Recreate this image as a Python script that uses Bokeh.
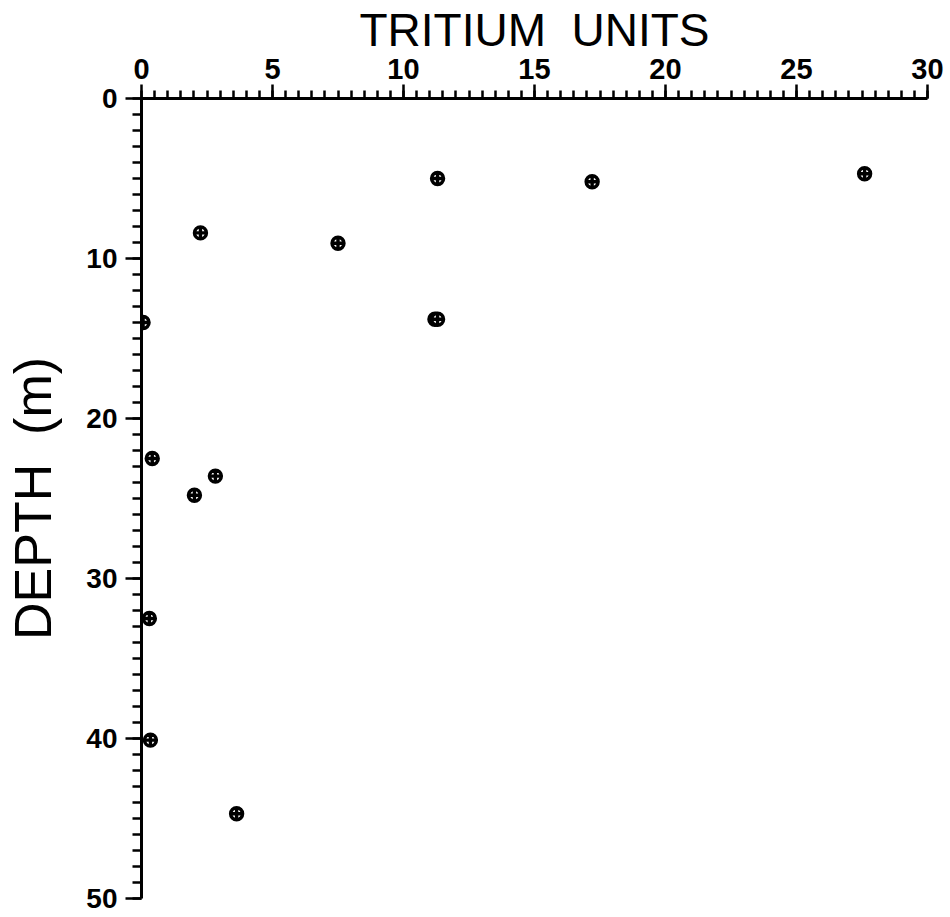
from bokeh.plotting import figure
from bokeh.models import Range1d, SingleIntervalTicker, ColumnDataSource
from bokeh.embed import file_html
from bokeh.resources import INLINE

# Data (tritium units vs depth in metres)
tritium = [27.6, 11.3, 17.2, 2.25, 7.5, 11.2, 11.3, 0.06, 0.41, 2.82, 2.02, 0.3, 0.34, 3.63]
depth = [4.7, 5.0, 5.2, 8.4, 9.05, 13.8, 13.8, 14.0, 22.5, 23.6, 24.8, 32.5, 40.1, 44.7]

x_ticks_interval = 5
y_ticks_interval = 10

source = ColumnDataSource(data=dict(x=tritium, y=depth))

p = figure(width=950, height=917, output_backend="svg", toolbar_location=None,
           x_range=Range1d(0, 30), y_range=Range1d(50, 0),
           x_axis_location="above",
           min_border_left=141, min_border_right=23,
           min_border_top=97, min_border_bottom=19)

p.outline_line_color = None
p.xgrid.visible = False
p.ygrid.visible = False
p.background_fill_color = "white"
p.border_fill_color = "white"

p.scatter("x", "y", source=source, marker="circle_cross", size=12,
          line_width=3.4, line_color="black", fill_color="white")

xa = p.xaxis[0]
xa.ticker = SingleIntervalTicker(interval=x_ticks_interval, num_minor_ticks=10)
xa.axis_label = "TRITIUM \u00a0UNITS"
xa.axis_label_text_font = "Liberation Sans"
xa.axis_label_text_font_size = "46px"
xa.axis_label_text_font_style = "normal"
xa.axis_label_standoff = 0
xa.major_label_text_font = "Liberation Sans"
xa.major_label_text_font_size = "29px"
xa.major_label_text_font_style = "bold"
xa.major_label_standoff = 6
xa.major_tick_out = 14
xa.major_tick_in = 0
xa.minor_tick_out = 8
xa.minor_tick_in = 0
xa.axis_line_width = 3
xa.major_tick_line_width = 2.5
xa.minor_tick_line_width = 2.5
xa.axis_line_color = "black"
xa.major_tick_line_color = "black"
xa.minor_tick_line_color = "black"
xa.major_label_text_color = "black"
xa.axis_label_text_color = "black"

ya = p.yaxis[0]
ya.ticker = SingleIntervalTicker(interval=y_ticks_interval, num_minor_ticks=10)
ya.axis_label = "DEPTH \u00a0(m)"
ya.axis_label_text_font = "Liberation Sans"
ya.axis_label_text_font_size = "52px"
ya.axis_label_text_font_style = "normal"
ya.axis_label_standoff = 21
ya.major_label_text_font = "Liberation Sans"
ya.major_label_text_font_size = "28px"
ya.major_label_text_font_style = "bold"
ya.major_label_standoff = 8
ya.major_tick_out = 16
ya.major_tick_in = 0
ya.minor_tick_out = 9
ya.minor_tick_in = 0
ya.axis_line_width = 3
ya.major_tick_line_width = 2.5
ya.minor_tick_line_width = 2.5
ya.axis_line_color = "black"
ya.major_tick_line_color = "black"
ya.minor_tick_line_color = "black"
ya.major_label_text_color = "black"
ya.axis_label_text_color = "black"

open("out.html", "w").write(file_html(p, INLINE))
